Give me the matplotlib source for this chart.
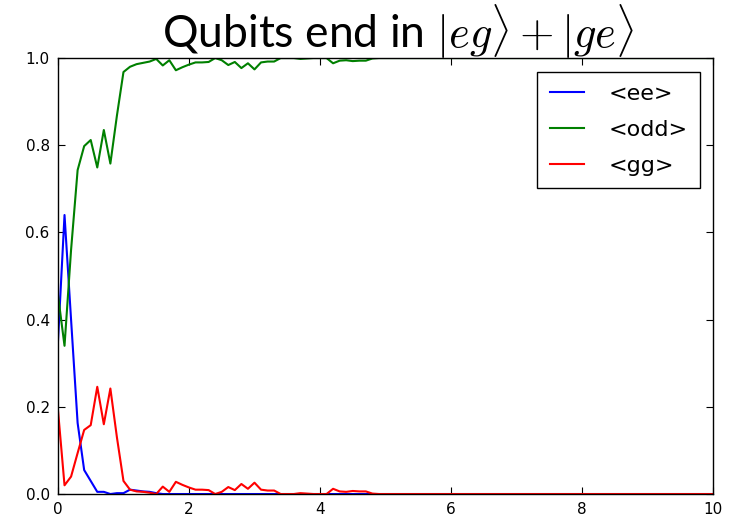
"""Populations of the two-qubit states over time."""
import numpy as np
import matplotlib

matplotlib.use("Agg")
import matplotlib.pyplot as plt  # noqa: E402

plt.rcParams["mathtext.fontset"] = "cm"

# time grid, step 0.1
t = np.linspace(0, 10, 101)

ee = [
    0.35, 0.64, 0.40, 0.163, 0.055, 0.03, 0.005, 0.005, 0.0, 0.002,
    0.002, 0.01, 0.008, 0.006, 0.005, 0.002, 0.0, 0.0, 0.0, 0.0,
    0.0, 0.0, 0.0, 0.0, 0.0, 0.0, 0.0, 0.0, 0.0, 0.0,
    0.0, 0.0, 0.0, 0.0, 0.0, 0.0, 0.0, 0.0, 0.0, 0.0,
    0.0, 0.0, 0.0, 0.0, 0.0, 0.0, 0.0, 0.0, 0.0, 0.0,
    0.0, 0.0, 0.0, 0.0, 0.0, 0.0, 0.0, 0.0, 0.0, 0.0,
    0.0, 0.0, 0.0, 0.0, 0.0, 0.0, 0.0, 0.0, 0.0, 0.0,
    0.0, 0.0, 0.0, 0.0, 0.0, 0.0, 0.0, 0.0, 0.0, 0.0,
    0.0, 0.0, 0.0, 0.0, 0.0, 0.0, 0.0, 0.0, 0.0, 0.0,
    0.0, 0.0, 0.0, 0.0, 0.0, 0.0, 0.0, 0.0, 0.0, 0.0,
    0.0,
]

odd = [
    0.457, 0.34, 0.56, 0.743, 0.798, 0.812, 0.749, 0.835, 0.758, 0.868,
    0.968, 0.98, 0.986, 0.989, 0.992, 0.998, 0.983, 0.995, 0.972, 0.979,
    0.985, 0.99, 0.99, 0.991, 1.0, 0.995, 0.984, 0.991, 0.977, 0.988,
    0.974, 0.99, 0.992, 0.992, 1.0, 1.0, 1.0, 0.998, 0.999, 1.0,
    1.0, 1.0, 0.988, 0.994, 0.995, 0.993, 0.994, 0.994, 0.999, 1.0,
    1.0, 1.0, 1.0, 1.0, 1.0, 1.0, 1.0, 1.0, 1.0, 1.0,
    1.0, 1.0, 1.0, 1.0, 1.0, 1.0, 1.0, 1.0, 1.0, 1.0,
    1.0, 1.0, 1.0, 1.0, 1.0, 1.0, 1.0, 1.0, 1.0, 1.0,
    1.0, 1.0, 1.0, 1.0, 1.0, 1.0, 1.0, 1.0, 1.0, 1.0,
    1.0, 1.0, 1.0, 1.0, 1.0, 1.0, 1.0, 1.0, 1.0, 1.0,
    1.0,
]

gg = [
    0.193, 0.02, 0.04, 0.094, 0.147, 0.158, 0.246, 0.16, 0.242, 0.13,
    0.03, 0.01, 0.006, 0.005, 0.003, 0.0, 0.017, 0.005, 0.028, 0.021,
    0.015, 0.01, 0.01, 0.009, 0.0, 0.005, 0.016, 0.009, 0.023, 0.012,
    0.026, 0.01, 0.008, 0.008, 0.0, 0.0, 0.0, 0.002, 0.001, 0.0,
    0.0, 0.0, 0.012, 0.006, 0.005, 0.007, 0.006, 0.006, 0.001, 0.0,
    0.0, 0.0, 0.0, 0.0, 0.0, 0.0, 0.0, 0.0, 0.0, 0.0,
    0.0, 0.0, 0.0, 0.0, 0.0, 0.0, 0.0, 0.0, 0.0, 0.0,
    0.0, 0.0, 0.0, 0.0, 0.0, 0.0, 0.0, 0.0, 0.0, 0.0,
    0.0, 0.0, 0.0, 0.0, 0.0, 0.0, 0.0, 0.0, 0.0, 0.0,
    0.0, 0.0, 0.0, 0.0, 0.0, 0.0, 0.0, 0.0, 0.0, 0.0,
    0.0,
]

fig = plt.figure(figsize=(7.31, 5.23), dpi=100)
ax = fig.add_axes([0.0793, 0.0554, 0.8961, 0.8336])

ax.plot(t, ee, color="b", lw=1.5, label="<ee>")
ax.plot(t, odd, color="g", lw=1.5, label="<odd>")
ax.plot(t, gg, color="r", lw=1.5, label="<gg>")

ax.set_xlim(0, 10)
ax.set_ylim(0, 1.0)
ax.set_xticks(np.arange(0, 11, 2))
ax.set_yticks(np.arange(0, 1.01, 0.2))
ax.tick_params(direction="in", top=True, right=True, length=5,
               labelsize=11, pad=6)
for s in ax.spines.values():
    s.set_linewidth(1.0)

leg = ax.legend(loc="upper right", bbox_to_anchor=(0.98, 0.968),
                borderaxespad=0, fontsize=16, frameon=True, fancybox=False,
                edgecolor="black", framealpha=1, handlelength=1.55,
                handletextpad=1.1, labelspacing=0.72, borderpad=0.55)
leg.get_frame().set_linewidth(1.0)

fig.text(0.545, 0.908, r"Qubits end in $|eg\rangle + |ge\rangle$",
         family="Lato", fontsize=32, ha="center", va="baseline")

fig.savefig("out.png", dpi=100)
